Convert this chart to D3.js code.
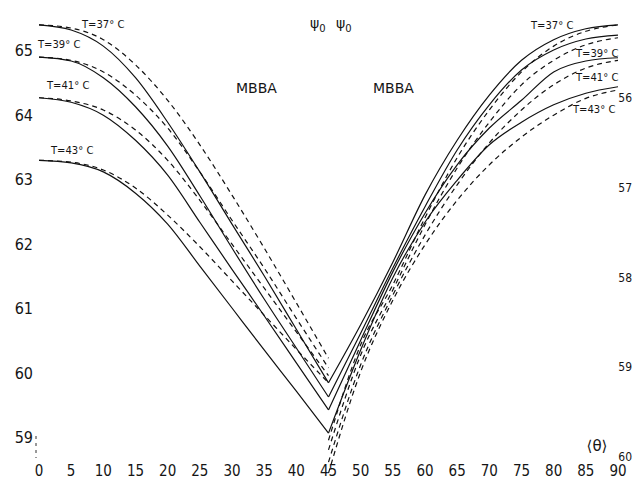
<!DOCTYPE html>
<html>
<head>
<meta charset="utf-8">
<script src="https://cdn.jsdelivr.net/npm/d3@7/dist/d3.min.js"></script>
<style>
  html, body { margin: 0; padding: 0; background: #fff; }
  svg { display: block; }
  text { fill: #151515; }
</style>
</head>
<body>
<div id="chart"></div>
<script>
// ψ0 against <θ> for MBBA, four temperatures, solid and dashed curves
const thetaLeft  = [0, 5, 10, 15, 20, 25, 30, 35, 40, 45];
const thetaRight = [45, 50, 55, 60, 65, 70, 75, 80, 85, 90];
const tempLabels = ["T=37° C", "T=39° C", "T=41° C", "T=43° C"];

const xTicks = [0, 5, 10, 15, 20, 25, 30, 35, 40, 45, 50, 55, 60, 65, 70, 75, 80, 85, 90];
const yTicksLeft = [59, 60, 61, 62, 63, 64, 65];
const yTicksRight = [56, 57, 58, 59, 60];

// left branch (0..45), solid
const solidLeft37 = [65.39, 65.31, 65.06, 64.57, 63.88, 63.11, 62.30, 61.50, 60.67, 59.84];
const solidLeft39 = [64.89, 64.83, 64.57, 64.12, 63.51, 62.74, 61.93, 61.14, 60.38, 59.62];
const solidLeft41 = [64.26, 64.19, 63.99, 63.60, 63.06, 62.33, 61.60, 60.88, 60.15, 59.42];
const solidLeft43 = [63.29, 63.25, 63.11, 62.78, 62.30, 61.65, 61.00, 60.35, 59.71, 59.06];
// left branch, dashed
const dashLeft37 = [65.39, 65.34, 65.16, 64.77, 64.22, 63.53, 62.75, 61.93, 61.08, 60.22];
const dashLeft39 = [64.89, 64.84, 64.66, 64.30, 63.79, 63.11, 62.36, 61.62, 60.84, 60.07];
const dashLeft41 = [64.26, 64.21, 64.07, 63.76, 63.29, 62.67, 61.99, 61.31, 60.63, 59.95];
const dashLeft43 = [63.29, 63.26, 63.14, 62.86, 62.44, 61.95, 61.42, 60.89, 60.36, 59.84];
// right branch (45..90), solid
const solidRight37 = [59.84, 60.74, 61.71, 62.75, 63.60, 64.30, 64.84, 65.16, 65.33, 65.39];
const solidRight39 = [59.62, 60.61, 61.62, 62.57, 63.45, 64.15, 64.69, 65.00, 65.17, 65.23];
const solidRight41 = [59.42, 60.50, 61.56, 62.47, 63.22, 63.79, 64.22, 64.66, 64.83, 64.88];
const solidRight43 = [59.06, 60.35, 61.47, 62.33, 62.98, 63.53, 63.88, 64.15, 64.33, 64.43];
// right branch, dashed
const dashRight37 = [58.95, 60.43, 61.36, 62.40, 63.33, 64.07, 64.66, 65.06, 65.29, 65.39];
const dashRight39 = [58.80, 60.27, 61.28, 62.29, 63.17, 63.88, 64.46, 64.84, 65.08, 65.19];
const dashRight41 = [58.61, 60.12, 61.20, 62.13, 62.91, 63.56, 64.07, 64.46, 64.72, 64.84];
const dashRight43 = [58.44, 60.01, 61.12, 61.98, 62.67, 63.22, 63.65, 63.99, 64.25, 64.38];

const W = 634, H = 481;
const font = "'Liberation Sans Narrow', 'DejaVu Sans Condensed', 'Liberation Sans', sans-serif";

const svg = d3.select("#chart").append("svg")
    .attr("width", W)
    .attr("height", H);

const x = d3.scaleLinear().domain([0, 90]).range([39, 618]);
const y = d3.scaleLinear().domain([59, 65]).range([437, 50]);
const yRight = d3.scaleLinear().domain([56, 60]).range([97, 456]); // right scale runs downward

const line = d3.line()
    .x(d => x(d[0]))
    .y(d => y(d[1]))
    .curve(d3.curveMonotoneX);

const series = [
    [thetaLeft, solidLeft37, false], [thetaLeft, solidLeft39, false],
    [thetaLeft, solidLeft41, false], [thetaLeft, solidLeft43, false],
    [thetaLeft, dashLeft37, true], [thetaLeft, dashLeft39, true],
    [thetaLeft, dashLeft41, true], [thetaLeft, dashLeft43, true],
    [thetaRight, solidRight37, false], [thetaRight, solidRight39, false],
    [thetaRight, solidRight41, false], [thetaRight, solidRight43, false],
    [thetaRight, dashRight37, true], [thetaRight, dashRight39, true],
    [thetaRight, dashRight41, true], [thetaRight, dashRight43, true]
];

svg.append("g").selectAll("path")
    .data(series)
    .join("path")
    .attr("d", s => line(s[0].map((t, i) => [t, s[1][i]])))
    .attr("fill", "none")
    .attr("stroke", "#111")
    .attr("stroke-width", 1.2)
    .attr("stroke-dasharray", s => s[2] ? "5,4" : null);

// x tick labels (no axis line in the original)
svg.append("g").selectAll("text")
    .data(xTicks)
    .join("text")
    .attr("x", d => x(d))
    .attr("y", 476)
    .attr("text-anchor", "middle")
    .style("font-family", font)
    .style("font-size", "15px")
    .text(d => d);

// left y labels
svg.append("g").selectAll("text")
    .data(yTicksLeft)
    .join("text")
    .attr("x", 33)
    .attr("y", d => y(d) + 6)
    .attr("text-anchor", "end")
    .style("font-family", font)
    .style("font-size", "16px")
    .text(d => d);

// right y labels, kept inside the page edge
svg.append("g").selectAll("text")
    .data(yTicksRight)
    .join("text")
    .attr("x", 632)
    .attr("y", d => yRight(d) + 5)
    .attr("text-anchor", "end")
    .style("font-family", font)
    .style("font-size", "12px")
    .text(d => d);

// small dotted mark next to 59
svg.append("line")
    .attr("x1", 36).attr("x2", 36)
    .attr("y1", y(59) - 1).attr("y2", y(59) + 21)
    .attr("stroke", "#333").attr("stroke-width", 1)
    .attr("stroke-dasharray", "3,4");

// temperature labels
const leftPos = [[82, 28], [38, 48], [47, 89], [51, 154]];
const rightPos = [[531, 29], [576, 57], [576, 81], [573, 113]];
svg.append("g").selectAll("text")
    .data(tempLabels.map((t, i) => ({ t, p: leftPos[i] })).concat(tempLabels.map((t, i) => ({ t, p: rightPos[i] }))))
    .join("text")
    .attr("x", d => d.p[0])
    .attr("y", d => d.p[1])
    .style("font-family", "'DejaVu Sans', sans-serif")
    .style("font-size", "10px")
    .text(d => d.t);

// titles
[[236, "MBBA"], [373, "MBBA"]].forEach(([px, t]) => {
    svg.append("text")
        .attr("x", px).attr("y", 93)
        .style("font-family", "'DejaVu Sans', sans-serif")
        .style("font-size", "14px")
        .text(t);
});
[310, 336].forEach(px => {
    const t = svg.append("text")
        .attr("x", px).attr("y", 28)
        .style("font-family", "'DejaVu Sans', sans-serif")
        .style("font-size", "14px")
        .text("ψ");
    t.append("tspan").attr("dy", 4).style("font-size", "10px").text("0");
});

svg.append("text")
    .attr("x", 597).attr("y", 451)
    .attr("text-anchor", "middle")
    .style("font-family", "'DejaVu Sans', sans-serif")
    .style("font-size", "15px")
    .text("⟨θ⟩");
</script>
</body>
</html>
